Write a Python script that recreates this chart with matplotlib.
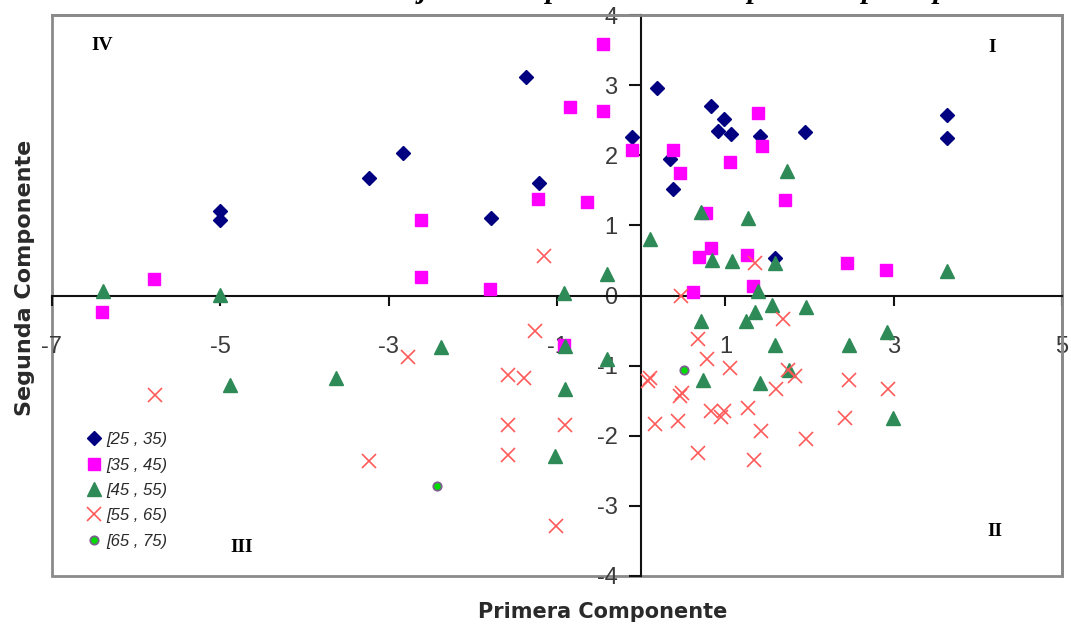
import matplotlib
matplotlib.use("Agg")
import matplotlib.pyplot as plt
from matplotlib.patches import Rectangle

# ---- data ----
labels = ["[25 , 35)", "[35 , 45)", "[45 , 55)", "[55 , 65)", "[65 , 75)"]

x_25_35 = [-1.37, -2.83, -3.23, -1.21, -5.00, -5.00, -1.79, 0.19, -0.11, 0.34, 0.38, 0.83,
           0.98, 0.91, 1.07, 1.41, 1.95, 3.63, 3.63, 1.59]
y_25_35 = [3.11, 2.03, 1.68, 1.61, 1.20, 1.08, 1.11, 2.96, 2.26, 1.95, 1.52, 2.70,
           2.52, 2.34, 2.30, 2.27, 2.33, 2.57, 2.25, 0.54]

x_35_45 = [-0.45, -0.84, -0.45, -0.11, 0.38, 0.46, 1.06, 1.39, 1.44, 1.71, -1.22, -0.64,
           -2.62, -5.79, -2.62, -1.80, -6.41, 0.77, 0.83, 0.69, 1.26, 2.45, 2.91, 1.33,
           0.61, -0.92]
y_35_45 = [3.59, 2.69, 2.63, 2.08, 2.08, 1.74, 1.91, 2.60, 2.13, 1.36, 1.38, 1.33,
           1.07, 0.24, 0.27, 0.09, -0.24, 1.18, 0.68, 0.55, 0.58, 0.47, 0.37, 0.14,
           0.05, -0.70]

x_45_55 = [-6.40, -5.00, -0.92, -0.41, 1.73, 0.71, 1.27, 0.10, 0.84, 1.08, 1.59, 3.63,
           1.39, 1.55, 1.96, 0.71, 1.35, 1.24, 1.59, 2.47, 2.92, 0.74, 1.41, 1.76,
           2.99, -0.41, -0.90, -0.90, -2.38, -3.62, -4.88, -1.02]
y_45_55 = [0.07, 0.01, 0.04, 0.30, 1.77, 1.19, 1.10, 0.81, 0.50, 0.49, 0.47, 0.35,
           0.06, -0.13, -0.16, -0.36, -0.23, -0.36, -0.71, -0.71, -0.52, -1.20, -1.25, -1.06,
           -1.74, -0.90, -0.72, -1.34, -0.74, -1.18, -1.28, -2.29]

x_55_65 = [-1.16, 0.47, 1.35, 1.68, 0.67, 0.78, 1.06, 0.11, 0.08, 0.49, 0.46, 1.74,
           1.83, 1.60, 0.83, 0.98, 0.95, 1.27, 0.17, 0.44, 1.42, 1.96, 2.42, 2.47,
           2.93, 0.67, 1.34, -1.26, -2.77, -1.58, -1.39, -5.78, -1.58, -0.90, -1.58,
           -3.23, -1.01]
y_55_65 = [0.57, -0.01, 0.47, -0.33, -0.62, -0.90, -1.03, -1.17, -1.22, -1.39, -1.44, -1.06,
           -1.15, -1.33, -1.64, -1.65, -1.73, -1.61, -1.83, -1.79, -1.93, -2.04, -1.74, -1.21,
           -1.34, -2.25, -2.35, -0.51, -0.87, -1.14, -1.17, -1.42, -1.85, -1.85, -2.28,
           -2.36, -3.29]

x_65_75 = [0.51, -2.42]
y_65_75 = [-1.06, -2.72]

x_ticks = [-7, -5, -3, -1, 1, 3, 5]
y_ticks = [-4, -3, -2, -1, 0, 1, 2, 3, 4]

title = "Ubicación de los sujetos en el plano de las componentes principales"

# ---- figure ----
fig = plt.figure(figsize=(10.71, 6.28), dpi=100)
ax = fig.add_axes([52 / 1071, 1 - 576 / 628, (1062 - 52) / 1071, (576 - 15) / 628])
ax.set_xlim(-7, 5)
ax.set_ylim(-4, 4)

ax.plot(x_25_35, y_25_35, ls="none", marker="D", ms=7.5, mfc="#000080", mec="#000080", label=labels[0], zorder=3)
ax.plot(x_35_45, y_35_45, ls="none", marker="s", ms=8.5, mfc="#FF00FF", mec="#FF00FF", label=labels[1], zorder=3)
ax.plot(x_45_55, y_45_55, ls="none", marker="^", ms=9.5, mfc="#2E8B57", mec="#2E8B57", label=labels[2], zorder=3)
ax.plot(x_55_65, y_55_65, ls="none", marker="x", ms=10.5, mew=1.2, color="#FF5A5A", label=labels[3], zorder=3)
ax.plot(x_65_75, y_65_75, ls="none", marker="o", ms=6, mfc="#00DD00", mec="#7A6090", mew=1.3, label=labels[4], zorder=3)

# centred axes
for s in ["left", "bottom"]:
    ax.spines[s].set_position(("data", 0))
    ax.spines[s].set_color("#111111")
    ax.spines[s].set_linewidth(1.5)
for s in ["top", "right"]:
    ax.spines[s].set_color("#8a8a8a")
    ax.spines[s].set_linewidth(2)
ax.add_patch(Rectangle((0, 0), 1, 1, transform=ax.transAxes, fill=False,
                       ec="#8a8a8a", lw=2, clip_on=False, zorder=0))

tick_font = dict(family=["Liberation Sans", "DejaVu Sans"], size=17, color="#3a3a3a")
ax.set_xticks(x_ticks)
ax.set_yticks(y_ticks)
ax.set_xticklabels([str(v) for v in x_ticks], **tick_font)
ax.set_yticklabels([str(v) for v in y_ticks], **tick_font)
ax.tick_params(axis="x", direction="out", length=7, width=1.5, pad=22, color="#111111")
ax.tick_params(axis="y", direction="out", length=9, width=1.5, pad=8, color="#111111")

# axis titles
fig.text(603 / 1071, 1 - 612 / 628, "Primera Componente", ha="center", va="center",
         family=["DejaVu Sans"], size=15, weight="bold", color="#2a2a2a")
fig.text(25 / 1071, 1 - 278 / 628, "Segunda Componente", ha="center", va="center",
         rotation=90, family=["DejaVu Sans"], size=16, weight="bold", color="#2a2a2a")

# quadrant labels
q_font = dict(family=["Liberation Serif", "DejaVu Serif"], size=14, weight="bold", color="black")
for txt, px, py in [("IV", 102, 46), ("I", 992, 48), ("III", 242, 548), ("II", 995, 532)]:
    fig.text(px / 1071, 1 - py / 628, txt, ha="center", va="center", **q_font)

# cropped title (only descenders visible, as in the reference)
fig.text(590 / 1071, 1 + 2.5 / 628, title, ha="center", va="baseline",
         family=["Liberation Serif", "DejaVu Serif"], size=21, weight="bold", style="italic")

leg = ax.legend(loc="upper left", bbox_to_anchor=(0.030, 0.268), frameon=False,
                handlelength=0.6, handletextpad=0.45, labelspacing=0.62, borderaxespad=0,
                prop=dict(family=["Liberation Sans", "DejaVu Sans"], size=12, style="italic"))
for t in leg.get_texts():
    t.set_color("#2a2a2a")

fig.savefig("out.png", dpi=100)
